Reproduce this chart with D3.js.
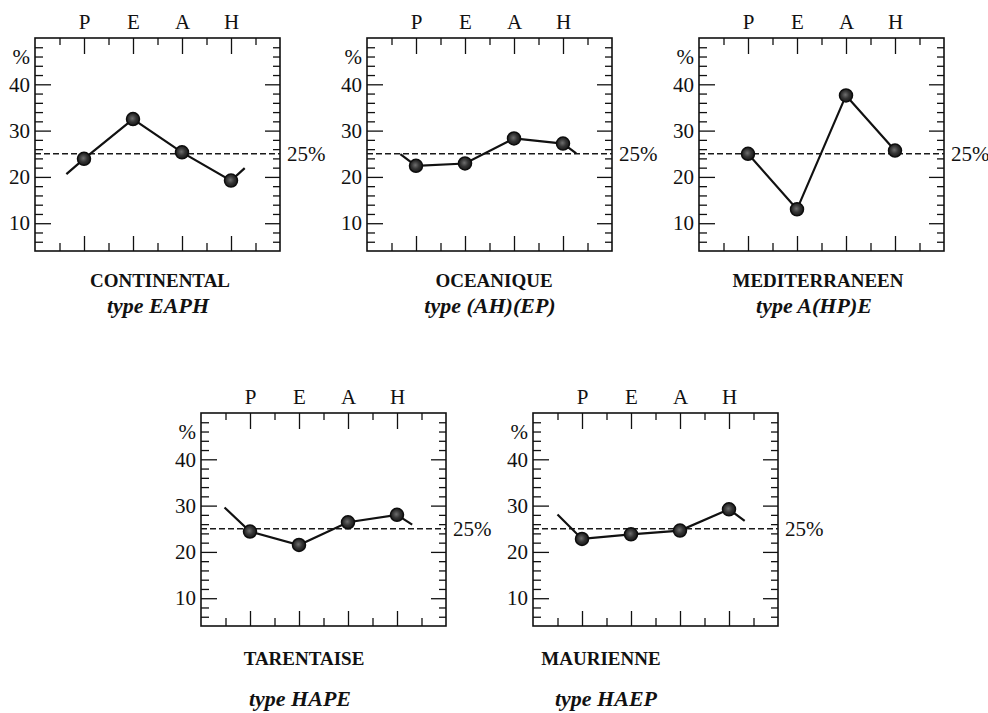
<!DOCTYPE html>
<html lang="fr">
<head>
<meta charset="UTF-8">
<title>Types de régimes saisonniers</title>
<script src="https://d3js.org/d3.v7.min.js"></script>
<style>
  body { margin: 0; background: #fff; }
  svg, svg text { font-family: "Liberation Serif", "Times New Roman", serif; }
</style>
</head>
<body>
<script>
// saisons (printemps, été, automne, hiver)
const seasons = ["P", "E", "A", "H"];
const regionNames = ["CONTINENTAL", "OCEANIQUE", "MEDITERRANEEN", "TARENTAISE", "MAURIENNE"];
const typeLabels = ["type EAPH", "type (AH)(EP)", "type A(HP)E", "type HAPE", "type HAEP"];

// % par saison, P E A H
const continental   = [23.9, 32.5, 25.3, 19.2];
const oceanique     = [22.4, 22.9, 28.3, 27.2];
const mediterraneen = [25.0, 13.0, 37.6, 25.7];
const tarentaise    = [24.4, 21.5, 26.4, 28.0];
const maurienne     = [22.8, 23.8, 24.6, 29.2];

// bouts de ligne avant P et apres H : [position, %]
const tailsIn  = [[0.64, 20.6], [0.68, 24.9], null, [0.48, 29.6], [0.50, 28.1]];
const tailsOut = [[4.28, 21.9], [4.27, 25.1], null, [4.31, 25.9], [4.32, 26.7]];

const yMajor = [10, 20, 30, 40];
const yMinor = d3.range(6, 50, 2).filter(v => v % 10 !== 0);
const xMajor = [1, 2, 3, 4];
const xMinor = [0.5, 1.5, 2.5, 3.5, 4.5];
const reference = 25;

const series = [continental, oceanique, mediterraneen, tarentaise, maurienne];

// layout
const W = 988, H = 713;
const pw = 245, ph = 213;
const panels = [
    {x: 35,  y: 38,  name: 160, type: 158, nameY: 287, typeY: 313},
    {x: 367, y: 38,  name: 494, type: 490, nameY: 287, typeY: 313},
    {x: 699, y: 38,  name: 818, type: 814, nameY: 287, typeY: 313},
    {x: 201, y: 413, name: 304, type: 300, nameY: 665, typeY: 706},
    {x: 533, y: 413, name: 601, type: 606, nameY: 665, typeY: 706}
];

const x = d3.scaleLinear().domain([0, 5]).range([0, pw]);
const y = d3.scaleLinear().domain([4, 50]).range([ph, 0]);

const svg = d3.select("body").append("svg")
    .attr("width", W)
    .attr("height", H)
    .attr("viewBox", [0, 0, W, H]);

const defs = svg.append("defs");
const grad = defs.append("radialGradient").attr("id", "ball")
    .attr("cx", "45%").attr("cy", "45%").attr("r", "60%");
grad.append("stop").attr("offset", "0%").attr("stop-color", "#6e6e6e");
grad.append("stop").attr("offset", "50%").attr("stop-color", "#333");
grad.append("stop").attr("offset", "100%").attr("stop-color", "#141414");

function styleAxis(g) {
    g.attr("font-family", null).attr("font-size", null);
    g.select(".domain").remove();
    g.selectAll(".tick line").attr("stroke", "#111").attr("stroke-width", 1.3);
    g.selectAll(".tick text").attr("fill", "#111").attr("font-size", 21);
}

panels.forEach((p, i) => {
    const g = svg.append("g").attr("transform", `translate(${p.x},${p.y})`);

    // ticks on the four sides, pointing inwards
    g.append("g").call(d3.axisLeft(y).tickValues(yMinor).tickSize(-8).tickFormat("")).call(styleAxis);
    g.append("g").call(d3.axisLeft(y).tickValues(yMajor).tickSize(-16).tickPadding(5)).call(styleAxis);
    g.append("g").attr("transform", `translate(${pw},0)`)
        .call(d3.axisRight(y).tickValues(yMinor).tickSize(-7).tickFormat("")).call(styleAxis);
    g.append("g").attr("transform", `translate(${pw},0)`)
        .call(d3.axisRight(y).tickValues(yMajor).tickSize(-15).tickFormat("")).call(styleAxis);
    g.append("g").call(d3.axisTop(x).tickValues(xMinor).tickSize(-7).tickFormat("")).call(styleAxis);
    g.append("g").call(d3.axisTop(x).tickValues(xMajor).tickSize(-16).tickPadding(9)
        .tickFormat(d => seasons[d - 1])).call(styleAxis);
    g.append("g").attr("transform", `translate(0,${ph})`)
        .call(d3.axisBottom(x).tickValues(xMinor).tickSize(-8).tickFormat("")).call(styleAxis);
    g.append("g").attr("transform", `translate(0,${ph})`)
        .call(d3.axisBottom(x).tickValues(xMajor).tickSize(-15).tickFormat("")).call(styleAxis);

    g.append("text")
        .attr("x", -5)
        .attr("y", y(46))
        .attr("dy", "0.35em")
        .attr("text-anchor", "end")
        .attr("font-size", 21)
        .attr("fill", "#111")
        .text("%");

    g.append("rect")
        .attr("width", pw)
        .attr("height", ph)
        .attr("fill", "none")
        .attr("stroke", "#111")
        .attr("stroke-width", 1.6);

    // 25% line
    g.append("line")
        .attr("x1", 0).attr("x2", pw)
        .attr("y1", y(reference)).attr("y2", y(reference))
        .attr("stroke", "#1a1a1a")
        .attr("stroke-width", 1.3)
        .attr("stroke-dasharray", "6,3");
    g.append("text")
        .attr("x", pw + 7)
        .attr("y", y(reference))
        .attr("dy", "0.35em")
        .attr("font-size", 21)
        .attr("fill", "#111")
        .text(reference + "%");

    const pts = series[i].map((v, k) => [k + 1, v]);
    const linePts = [];
    if (tailsIn[i]) linePts.push(tailsIn[i]);
    linePts.push(...pts);
    if (tailsOut[i]) linePts.push(tailsOut[i]);

    g.append("path")
        .datum(linePts)
        .attr("fill", "none")
        .attr("stroke", "#111")
        .attr("stroke-width", 2.2)
        .attr("d", d3.line().x(d => x(d[0])).y(d => y(d[1])));

    g.selectAll("circle.pt")
        .data(pts)
        .join("circle")
        .attr("class", "pt")
        .attr("cx", d => x(d[0]))
        .attr("cy", d => y(d[1]))
        .attr("r", 6.5)
        .attr("fill", "url(#ball)")
        .attr("stroke", "#0d0d0d")
        .attr("stroke-width", 1.5);

    svg.append("text")
        .attr("x", p.name)
        .attr("y", p.nameY)
        .attr("text-anchor", "middle")
        .attr("font-size", 19)
        .attr("font-weight", "bold")
        .attr("fill", "#111")
        .text(regionNames[i]);
    svg.append("text")
        .attr("x", p.type)
        .attr("y", p.typeY)
        .attr("text-anchor", "middle")
        .attr("font-size", 22)
        .attr("font-weight", "bold")
        .attr("font-style", "italic")
        .attr("fill", "#111")
        .text(typeLabels[i]);
});
</script>
</body>
</html>
